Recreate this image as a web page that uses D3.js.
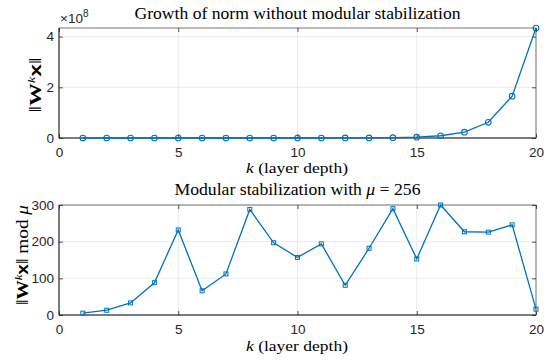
<!DOCTYPE html>
<html>
<head>
<meta charset="utf-8">
<script src="https://cdn.jsdelivr.net/npm/d3@7"></script>
<style>
  body { margin: 0; background: #fff; }
  svg { display: block; }
  .tick text { font-family: "Liberation Sans", Arial, sans-serif; font-size: 13.5px; fill: #262626; }
</style>
</head>
<body>
<div id="canvas"></div>
<script>
// layer depth k
var layers = [1, 2, 3, 4, 5, 6, 7, 8, 9, 10, 11, 12, 13, 14, 15, 16, 17, 18, 19, 20];
// raw norm (values below ~1e6 are invisible there)
var normRaw = [4, 11, 30, 79, 208, 550, 1450, 3800, 1.0e4, 2.7e4, 7.0e4, 1.85e5,
               4.9e5, 1.3e6, 3.4e6, 8.9e6, 2.3e7, 6.2e7, 1.65e8, 4.34e8];
// norm mod mu
var normMod = [5, 13, 33, 88, 232, 66, 112, 288, 197, 157, 194, 81, 182, 290, 153, 300, 227, 226, 246, 16];
var xTicks = [0, 5, 10, 15, 20];
var topTicks = [0, 2e8, 4e8];
var botTicks = [0, 100, 200, 300];

var blue = '#0072BD';
var serif = '"Liberation Serif", "Times New Roman", serif';
var sans = '"Liberation Sans", Arial, sans-serif';
var svg = d3.select('#canvas').append('svg').attr('width', 550).attr('height', 363);

var left = 59, right = 536;
var x = d3.scaleLinear().domain([0, 20]).range([left, right]);

var panel = function (top, bottom, ymax, values, yticks, yfmt, marker) {
    var y = d3.scaleLinear().domain([0, ymax]).range([bottom, top]);
    var g = svg.append('g');
    // grid
    g.selectAll('line.gx').data(xTicks).enter().append('line')
        .attr('x1', function (d) { return x(d); }).attr('x2', function (d) { return x(d); })
        .attr('y1', top).attr('y2', bottom)
        .attr('stroke', '#e6e6e6').attr('stroke-width', 0.8);
    g.selectAll('line.gy').data(yticks).enter().append('line')
        .attr('y1', function (d) { return y(d); }).attr('y2', function (d) { return y(d); })
        .attr('x1', left).attr('x2', right)
        .attr('stroke', '#e6e6e6').attr('stroke-width', 0.8);
    // box
    g.append('rect').attr('x', left).attr('y', top)
        .attr('width', right - left).attr('height', bottom - top)
        .attr('fill', 'none').attr('stroke', '#555').attr('stroke-width', 0.8);
    g.append('path').attr('d', 'M' + left + ',' + top + 'V' + bottom + 'H' + right)
        .attr('fill', 'none').attr('stroke', '#262626').attr('stroke-width', 0.8);
    // axes (inward ticks)
    var ax = g.append('g').attr('transform', 'translate(0,' + bottom + ')')
        .call(d3.axisBottom(x).tickValues(xTicks).tickSizeInner(-4).tickSizeOuter(0).tickPadding(9));
    var ax2 = g.append('g').attr('transform', 'translate(0,' + top + ')')
        .call(d3.axisTop(x).tickValues(xTicks).tickSizeInner(-4).tickSizeOuter(0).tickFormat(''));
    var ay = g.append('g').attr('transform', 'translate(' + left + ',0)')
        .call(d3.axisLeft(y).tickValues(yticks).tickFormat(yfmt).tickSizeInner(-4).tickSizeOuter(0).tickPadding(5));
    var ay2 = g.append('g').attr('transform', 'translate(' + right + ',0)')
        .call(d3.axisRight(y).tickValues(yticks).tickSizeInner(-4).tickSizeOuter(0).tickFormat(''));
    [ax, ax2, ay, ay2].forEach(function (a) {
        a.select('.domain').remove();
        a.selectAll('.tick line').attr('stroke', '#262626').attr('stroke-width', 0.8);
    });
    // line
    var line = d3.line().x(function (d, i) { return x(layers[i]); }).y(function (d) { return y(d); });
    g.append('path').datum(values).attr('d', line)
        .attr('fill', 'none').attr('stroke', blue).attr('stroke-width', 1.3);
    if (marker === 'circle') {
        g.selectAll('circle.m').data(values).enter().append('circle')
            .attr('cx', function (d, i) { return x(layers[i]); })
            .attr('cy', function (d) { return y(d); })
            .attr('r', 2.8).attr('fill', 'none').attr('stroke', blue).attr('stroke-width', 1.1);
    } else {
        g.selectAll('rect.m').data(values).enter().append('rect')
            .attr('x', function (d, i) { return x(layers[i]) - 2; })
            .attr('y', function (d) { return y(d) - 2; })
            .attr('width', 4).attr('height', 4)
            .attr('fill', 'none').attr('stroke', blue).attr('stroke-width', 1);
    }
    return g;
};

panel(28, 138, 4.34e8, normRaw, topTicks, function (d) { return d / 1e8; }, 'circle');
panel(205, 315, 300, normMod, botTicks, function (d) { return d; }, 'square');

// titles
svg.append('text').attr('x', 297.5).attr('y', 19)
    .attr('text-anchor', 'middle').style('font-family', serif).style('font-size', '16px')
    .attr('textLength', 326).attr('lengthAdjust', 'spacingAndGlyphs')
    .text('Growth of norm without modular stabilization');
var t2 = svg.append('text').attr('x', 297.5).attr('y', 195)
    .attr('text-anchor', 'middle').style('font-family', serif).style('font-size', '16px')
    .attr('textLength', 246).attr('lengthAdjust', 'spacingAndGlyphs');
t2.append('tspan').text('Modular stabilization with ');
t2.append('tspan').style('font-style', 'italic').text('\u03bc');
t2.append('tspan').text(' = 256');

// x labels
[173, 351].forEach(function (yy) {
    var t = svg.append('text').attr('x', 297).attr('y', yy)
        .attr('text-anchor', 'middle').style('font-family', serif).style('font-size', '15px')
        .attr('textLength', 102).attr('lengthAdjust', 'spacingAndGlyphs');
    t.append('tspan').style('font-style', 'italic').text('k');
    t.append('tspan').text(' (layer depth)');
});

// y labels
var ylab = function (cx, cy, len, withMod) {
    var t = svg.append('text')
        .attr('transform', 'translate(' + cx + ',' + cy + ') rotate(-90)')
        .attr('text-anchor', 'middle').style('font-family', serif).style('font-size', '16px')
        .attr('textLength', len).attr('lengthAdjust', 'spacingAndGlyphs');
    t.append('tspan').text('\u2016');
    t.append('tspan').style('font-weight', 'bold').text('W');
    t.append('tspan').attr('dy', -6).style('font-size', '10.5px').style('font-style', 'italic').text('k');
    t.append('tspan').attr('dy', 6).style('font-weight', 'bold').style('font-family', sans).text('x');
    t.append('tspan').text('\u2016');
    if (withMod) {
        t.append('tspan').text(' mod ');
        t.append('tspan').style('font-style', 'italic').text('\u03bc');
    }
};
ylab(41, 85, 55, false);
ylab(28, 255, 100, true);

// exponent label
var ex = svg.append('text').attr('x', 60).attr('y', 23)
    .style('font-family', sans).style('font-size', '13.5px').attr('fill', '#262626');
ex.append('tspan').text('\u00d710');
ex.append('tspan').attr('dy', -6).style('font-size', '10px').text('8');
</script>
</body>
</html>
